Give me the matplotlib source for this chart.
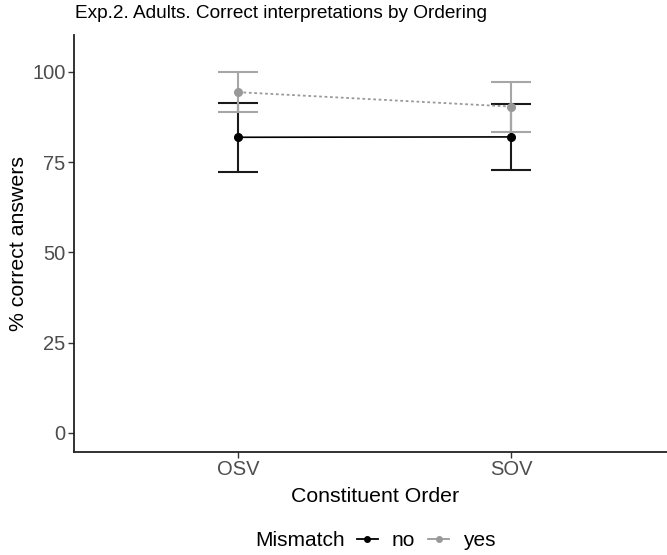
import matplotlib.pyplot as plt
from matplotlib.lines import Line2D

plt.rcParams['font.family'] = ['Liberation Sans', 'DejaVu Sans']

orders = ['OSV', 'SOV']
x = [1, 2]

# % correct, with lower / upper error bar ends
no_mean = [81.9, 82.0]
no_low = [72.3, 72.9]
no_high = [91.5, 91.2]

yes_mean = [94.4, 90.4]
yes_low = [89.0, 83.4]
yes_high = [99.9, 97.3]

fig = plt.figure(figsize=(6.67, 5.55), dpi=100)
ax = fig.add_axes([74/667, 1 - 451.7/555, 601.5/667, (451.7 - 35)/555])

col_no = '#000000'
col_yes = '#999999'
cap_no = '#1a1a1a'
cap_yes = '#a6a6a6'

def bars(mean, low, high, color):
    err = [[m - l for m, l in zip(mean, low)], [h - m for m, h in zip(mean, high)]]
    ax.errorbar(x, mean, yerr=err, fmt='none', ecolor=color, elinewidth=1.5,
                capsize=14.5, capthick=1.5, zorder=2)

bars(no_mean, no_low, no_high, cap_no)
bars(yes_mean, yes_low, yes_high, cap_yes)

ax.plot(x, no_mean, color=col_no, lw=1.2, marker='o', ms=5.5, zorder=3)
ax.plot(x, yes_mean, color=col_yes, lw=1.3, ls=(0, (1.5, 1.5)), marker='o', ms=5.5, zorder=3)

ax.set_xlim(0.4, 2.6)
ax.set_ylim(-5.25, 110.25)
ax.set_xticks(x)
ax.set_xticklabels(orders)
ax.set_yticks([0, 25, 50, 75, 100])
ax.tick_params(labelsize=14.5, labelcolor='#4d4d4d', length=4, width=1, color='#333333', pad=2)
for s in ['top', 'right']:
    ax.spines[s].set_visible(False)
for s in ['left', 'bottom']:
    ax.spines[s].set_linewidth(1.3)
    ax.spines[s].set_color('#222222')

ax.set_xlabel('Constituent Order', fontsize=15.3, labelpad=6)
ax.set_ylabel('% correct answers', fontsize=15.3, labelpad=3)
fig.text(75/667, 1 - 14/555, 'Exp.2. Adults. Correct interpretations by Ordering',
         fontsize=13.7, ha='left', va='center')

fig.text(255/667, 1 - 541/555, 'Mismatch', fontsize=15, ha='left', va='center')
handles = [Line2D([], [], color=col_no, lw=1.3, marker='o', ms=4),
           Line2D([], [], color=col_yes, lw=1.3, marker='o', ms=4)]
fig.legend(handles, ['no', 'yes'], ncol=2, loc='center left',
           bbox_to_anchor=(357/667, 1 - 541/555), frameon=False, fontsize=15,
           handlelength=1.0, handletextpad=0.65, columnspacing=0.65, borderpad=0,
           borderaxespad=0)

fig.savefig('out.png', dpi=100)
